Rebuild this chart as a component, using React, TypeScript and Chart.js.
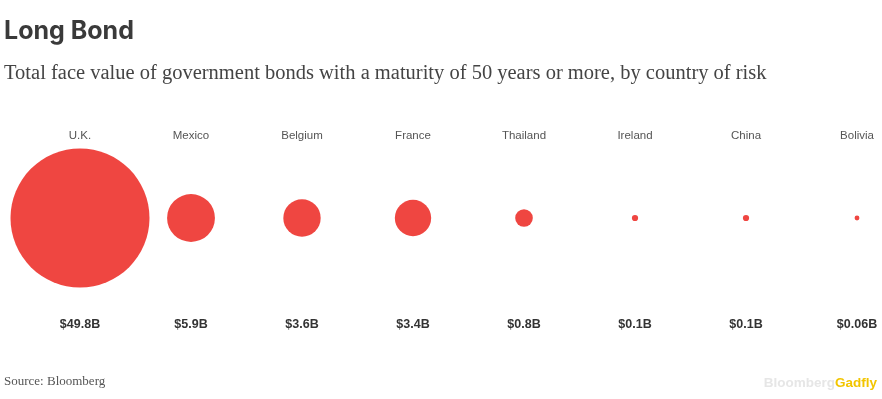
import React, { useEffect, useRef } from "react";
import { Chart, registerables } from "chart.js";

Chart.register(...registerables);

const countries = ["U.K.", "Mexico", "Belgium", "France", "Thailand", "Ireland", "China", "Bolivia"];
const faceValuesB = [49.8, 5.9, 3.6, 3.4, 0.8, 0.1, 0.1, 0.06];
const valueLabels = ["$49.8B", "$5.9B", "$3.6B", "$3.4B", "$0.8B", "$0.1B", "$0.1B", "$0.06B"];

const TITLE = "Long Bond";
const SUBTITLE = "Total face value of government bonds with a maturity of 50 years or more, by country of risk";
const SOURCE = "Source: Bloomberg";

const RED = "#ef4641";
const PX_PER_SQRT_BILLION = 9.85; // bubble area proportional to value

const textPlugin = {
  id: "bondText",
  afterDraw(chart: any) {
    const ctx = chart.ctx;
    const xs = chart.scales.x;
    ctx.save();
    // title
    ctx.fillStyle = "#3a3a3a";
    ctx.textAlign = "left";
    ctx.textBaseline = "alphabetic";
    ctx.font = "700 25px Inter";
    ctx.fillText(TITLE, 4, 39);
    // subtitle
    ctx.fillStyle = "#444";
    ctx.font = "20.5px 'Liberation Serif'";
    ctx.fillText(SUBTITLE, 4, 79, 766);
    // source
    ctx.fillStyle = "#555";
    ctx.font = "13px 'Liberation Serif'";
    ctx.fillText(SOURCE, 4, 385);
    // logo
    ctx.font = "bold 13.5px 'Liberation Sans'";
    const w1 = ctx.measureText("Bloomberg").width;
    const w2 = ctx.measureText("Gadfly").width;
    const endX = 877;
    ctx.fillStyle = "#e6e6e6";
    ctx.fillText("Bloomberg", endX - w1 - w2, 387);
    ctx.fillStyle = "#f2c500";
    ctx.fillText("Gadfly", endX - w2, 387);
    // country and value labels
    ctx.textAlign = "center";
    countries.forEach((c, i) => {
      const x = xs.getPixelForValue(i);
      ctx.fillStyle = "#555";
      ctx.font = "11.5px 'Liberation Sans'";
      ctx.fillText(c, x, 139);
      ctx.fillStyle = "#333";
      ctx.font = "bold 12.5px 'Liberation Sans'";
      ctx.fillText(valueLabels[i], x, 328);
    });
    ctx.restore();
  },
};

export default function App() {
  const ref = useRef<HTMLCanvasElement>(null);
  useEffect(() => {
    if (!ref.current) return;
    const chart = new Chart(ref.current, {
      type: "bubble",
      data: {
        labels: countries,
        datasets: [
          {
            data: faceValuesB.map((v, i) => ({ x: i, y: 0.5, r: PX_PER_SQRT_BILLION * Math.sqrt(v) })),
            backgroundColor: RED,
            borderWidth: 0,
            hoverBorderWidth: 0,
            clip: false as any,
          },
        ],
      },
      options: {
        responsive: false,
        animation: false,
        events: [],
        layout: { autoPadding: false, padding: { left: 80, right: 25, top: 150, bottom: 113 } },
        plugins: { legend: { display: false }, tooltip: { enabled: false }, title: { display: false } },
        scales: {
          x: { type: "category", offset: false, display: false },
          y: { type: "linear", min: 0, max: 1, display: false },
        },
      },
      plugins: [textPlugin],
    });
    return () => chart.destroy();
  }, []);
  return (
    <div style={{ position: "absolute", left: 0, top: 0, width: 882, height: 399, background: "#fff" }}>
      <canvas ref={ref} width={882} height={399} style={{ display: "block" }} />
    </div>
  );
}
